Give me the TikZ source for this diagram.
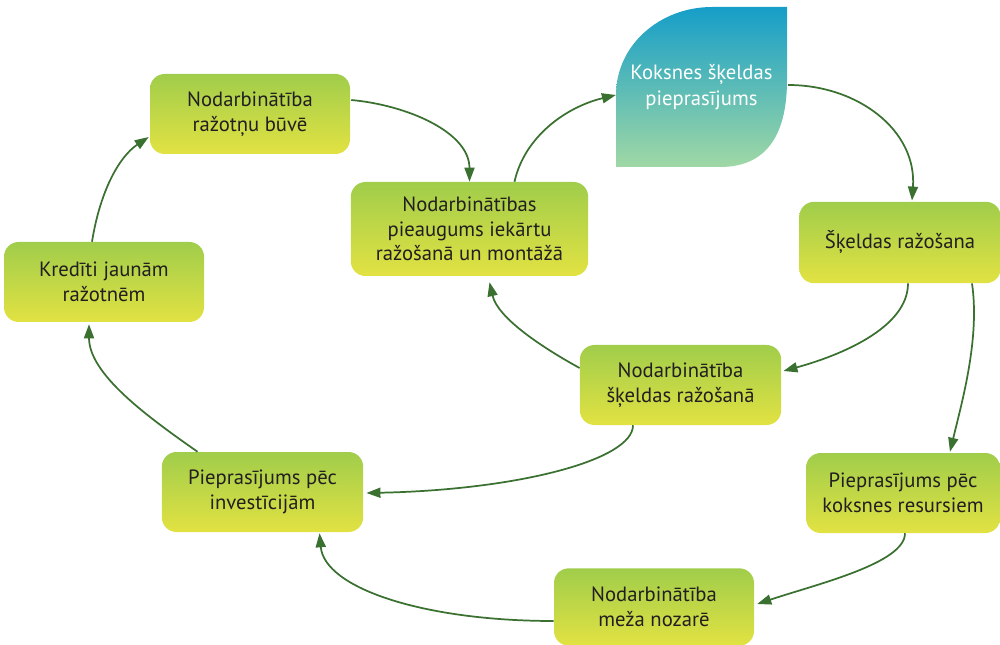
\documentclass[tikz,border=0pt]{standalone}
\usepackage{fontspec}
\setmainfont{PT Sans}
\usetikzlibrary{arrows.meta,calc}

\definecolor{boxtop}{RGB}{160,205,75}
\definecolor{boxbottom}{RGB}{226,226,66}
\definecolor{leaftop}{RGB}{22,158,200}
\definecolor{leafbottom}{RGB}{160,216,165}
\definecolor{arrowgreen}{RGB}{58,112,48}
\definecolor{textgray}{RGB}{35,31,32}

\tikzset{
  stagebox/.style={rectangle, rounded corners=11pt, top color=boxtop,
    bottom color=boxbottom, draw=none, text=textgray, align=center,
    font=\fontsize{15.5}{18.5}\selectfont, inner sep=0pt},
  flow/.style={draw=arrowgreen, line width=1.3pt,
    -{Triangle[length=10.5pt,width=7.5pt]}},
}

\begin{document}
\begin{tikzpicture}[x=0.75pt,y=-0.75pt]
\useasboundingbox (0,0) rectangle (1000,645);

% leaf-shaped demand node
\shade[top color=leaftop, bottom color=leafbottom]
  (616,167) -- (616,95) .. controls (616,45) and (660,7) .. (712,7)
  -- (787,7) -- (787,80) .. controls (787,130) and (770,167) .. (720,167) -- cycle;
\node[minimum width=128pt, minimum height=120pt, inner sep=0pt, text=white,
      align=center, font=\fontsize{15.5}{19.5}\selectfont] (leaf) at (701.5,87)
  {\raisebox{-8pt}{\parbox{128pt}{\centering Koksnes šķeldas\\pieprasījums}}};

% stages
\node[stagebox, minimum width=150pt, minimum height=60pt] (b1) at (250,114)
  {Nodarbinātība\\ražotņu būvē};
\node[stagebox, minimum width=178pt, minimum height=70.5pt] (b2) at (469.5,229)
  {Nodarbinātības\\pieaugums iekārtu\\ražošanā un montāžā};
\node[stagebox, minimum width=151pt, minimum height=61pt] (b3) at (900,242.5)
  {Šķeldas ražošana};
\node[stagebox, minimum width=150pt, minimum height=60pt] (b4) at (104,282)
  {Kredīti jaunām\\ražotnēm};
\node[stagebox, minimum width=151pt, minimum height=60pt] (b5) at (680.5,385)
  {Nodarbinātība\\šķeldas ražošanā};
\node[stagebox, minimum width=151pt, minimum height=60pt] (b6) at (262.5,492)
  {Pieprasījums pēc\\investīcijām};
\node[stagebox, minimum width=145.5pt, minimum height=60pt] (b7) at (903,493)
  {Pieprasījums pēc\\koksnes resursiem};
\node[stagebox, minimum width=150pt, minimum height=58pt] (b8) at (654,607)
  {Nodarbinātība\\meža nozarē};

% cycle connectors
\draw[flow] ($(b1.east)+(1,-14)$) .. controls +(55,5) and +(0,-50) .. (b2.north);
\draw[flow] ($(b2.north)+(45,0)$) .. controls +(10,-45) and +(-50,12) .. ($(leaf.west)+(0,8)$);
\draw[flow] ($(leaf.east)+(1,-2)$) .. controls +(70,0) and +(5,-70) .. ($(b3.north)+(12,-1)$);
\draw[flow] ($(b3.south)+(8,0)$) .. controls +(0,45) and +(55,-15) .. ($(b5.east)+(2,-14)$);
\draw[flow] ($(b3.south)+(72,0)$) .. controls +(8,55) and +(12,-50) .. ($(b7.north)+(47,-1)$);
\draw[flow] ($(b5.west)+(0,-17)$) .. controls +(-40,-22) and +(8,35) .. ($(b2.south)+(20,6)$);
\draw[flow] ($(b5.south)+(-47.5,0)$) .. controls +(0,35) and +(150,-3) .. ($(b6.east)+(3,1)$);
\draw[flow] ($(b7.south)+(2,0)$) .. controls +(0,30) and +(60,-20) .. ($(b8.east)+(3,-3)$);
\draw[flow] ($(b8.west)+(0,14)$) .. controls +(-130,0) and +(5,55) .. ($(b6.south)+(57,1)$);
\draw[flow] ($(b6.north)+(-65,0)$) .. controls +(-50,-35) and +(0,50) .. ($(b4.south)+(-15,2)$);
\draw[flow] ($(b4.north)+(-12,0)$) .. controls +(8,-50) and +(-30,20) .. ($(b1.west)+(-1,23)$);
\end{tikzpicture}
\end{document}
